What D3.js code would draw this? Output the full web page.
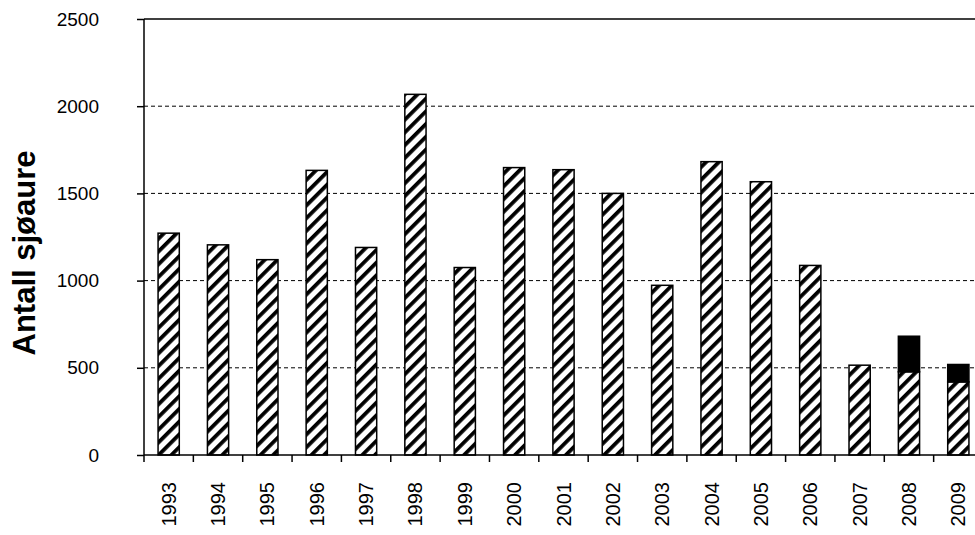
<!DOCTYPE html>
<html>
<head>
<meta charset="utf-8">
<title>Antall sjøaure</title>
<script src="https://cdn.jsdelivr.net/npm/d3@7"></script>
<style>
  body { margin: 0; background: #fff; }
  text { font-family: "Liberation Sans", Arial, sans-serif; }
</style>
</head>
<body>
<svg id="chart" width="975" height="535"></svg>
<script>
// counted fish per year (hatched part) and the extra part drawn solid black on top
var years = ["1993","1994","1995","1996","1997","1998","1999","2000","2001",
             "2002","2003","2004","2005","2006","2007","2008","2009"]
var hatched = [1272, 1205, 1120, 1632, 1190, 2068, 1075, 1648, 1636,
               1500, 973, 1682, 1567, 1087, 515, 477, 419]
var extra = [0, 0, 0, 0, 0, 0, 0, 0, 0, 0, 0, 0, 0, 0, 0, 204, 100]
var yTicks = [0, 500, 1000, 1500, 2000, 2500]

var svg = d3.select("#chart")
var pLeft = 144, pRight = 983, pTop = 19, pBottom = 455

var x = d3.scaleBand().domain(years).range([pLeft, pRight])
  .paddingInner(0.57).paddingOuter(0.285)
var y = d3.scaleLinear().domain([0, 2500]).range([pBottom, pTop])

// diagonal hatch
var defs = svg.append("defs")
var pat = defs.append("pattern")
  .attr("id", "hatch")
  .attr("patternUnits", "userSpaceOnUse")
  .attr("width", 9).attr("height", 9)
  .attr("patternTransform", "rotate(45)")
pat.append("rect").attr("width", 9).attr("height", 9).attr("fill", "#fff")
pat.append("rect").attr("x", 0).attr("y", 0).attr("width", 3.8).attr("height", 9).attr("fill", "#000")

// gridlines
svg.append("g").selectAll("line")
  .data(yTicks.filter(d => d > 0 && d < 2500))
  .enter().append("line")
  .attr("x1", pLeft).attr("x2", 975)
  .attr("y1", d => y(d)).attr("y2", d => y(d))
  .attr("stroke", "#000").attr("stroke-width", 1)
  .attr("stroke-dasharray", "4,3")
svg.append("line")
  .attr("x1", pLeft).attr("x2", 975)
  .attr("y1", y(2500)).attr("y2", y(2500))
  .attr("stroke", "#000").attr("stroke-width", 1.5)

// bars
svg.append("g").selectAll("rect")
  .data(years)
  .enter().append("rect")
  .attr("x", d => x(d))
  .attr("width", x.bandwidth())
  .attr("y", (d, i) => y(hatched[i]))
  .attr("height", (d, i) => y(0) - y(hatched[i]))
  .attr("fill", "url(#hatch)")
  .attr("stroke", "#000").attr("stroke-width", 1.5)

svg.append("g").selectAll("rect")
  .data(years.filter((d, i) => extra[i] > 0))
  .enter().append("rect")
  .attr("x", d => x(d))
  .attr("width", x.bandwidth())
  .attr("y", d => { var i = years.indexOf(d); return y(hatched[i] + extra[i]) })
  .attr("height", d => { var i = years.indexOf(d); return y(hatched[i]) - y(hatched[i] + extra[i]) })
  .attr("fill", "#000")
  .attr("stroke", "#000").attr("stroke-width", 1.5)

// y axis
var yAxis = svg.append("g")
  .attr("transform", "translate(" + pLeft + ",0)")
  .call(d3.axisLeft(y).tickValues(yTicks).tickSize(7).tickPadding(38).tickFormat(d3.format("d")))
yAxis.select(".domain").attr("stroke-width", 1.5).attr("d", "M0," + pBottom + "V" + pTop)
yAxis.selectAll(".tick line").attr("stroke-width", 1.5)
yAxis.selectAll("text").style("font-size", "19px").attr("fill", "#000")

// x axis, ticks between the categories
var xAxis = svg.append("g")
  .attr("transform", "translate(0," + pBottom + ")")
xAxis.append("line")
  .attr("x1", pLeft).attr("x2", 975).attr("y1", 0).attr("y2", 0)
  .attr("stroke", "#000").attr("stroke-width", 1.5)
var step = x.step()
xAxis.selectAll("line.tk")
  .data(d3.range(years.length + 1))
  .enter().append("line").attr("class", "tk")
  .attr("x1", i => pLeft + i * step).attr("x2", i => pLeft + i * step)
  .attr("y1", 0).attr("y2", 7)
  .attr("stroke", "#000").attr("stroke-width", 1.5)
xAxis.selectAll("text.yr")
  .data(years)
  .enter().append("text").attr("class", "yr")
  .attr("transform", d => "translate(" + (x(d) + x.bandwidth() / 2) + ",27) rotate(-90)")
  .attr("text-anchor", "end")
  .attr("dy", "0.35em")
  .style("font-size", "20px")
  .text(d => d)

// y label
svg.append("text")
  .attr("transform", "translate(24," + ((pTop + pBottom) / 2 + 16) + ") rotate(-90)")
  .attr("text-anchor", "middle")
  .attr("dy", "0.35em")
  .style("font-size", "31px")
  .style("font-weight", "bold")
  .text("Antall sjøaure")
</script>
</body>
</html>
